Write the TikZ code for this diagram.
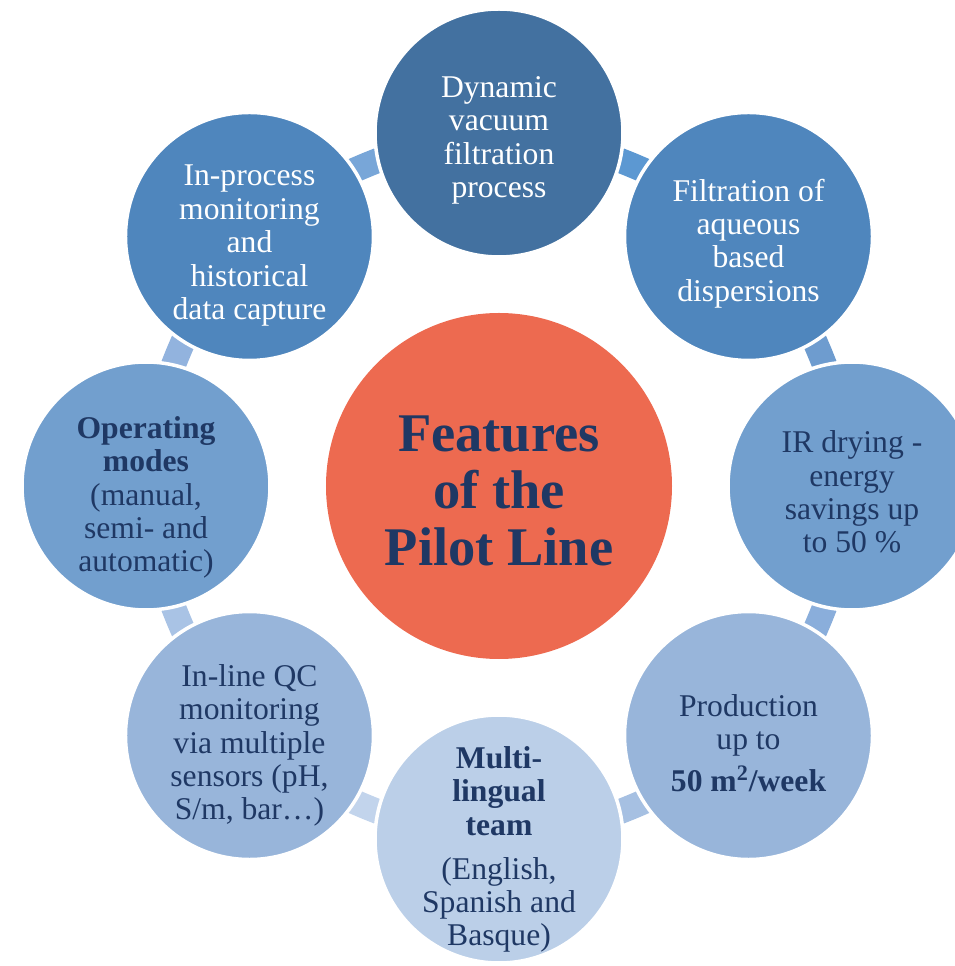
\documentclass[tikz,border=0pt]{standalone}
\usepackage{fontspec}
\setmainfont{Liberation Serif}
\usetikzlibrary{positioning,backgrounds}

\definecolor{hubred}{HTML}{ED6A50}
\definecolor{navy}{HTML}{1F3864}
\definecolor{blueA}{HTML}{4371A0}
\definecolor{blueB}{HTML}{4F86BD}
\definecolor{blueC}{HTML}{729FCE}
\definecolor{blueD}{HTML}{98B5DA}
\definecolor{blueE}{HTML}{BBCFE8}

\definecolor{linkA}{HTML}{5C98D2}
\definecolor{linkB}{HTML}{6E9CCF}
\definecolor{linkC}{HTML}{8AAEDB}
\definecolor{linkD}{HTML}{A6C0E2}
\definecolor{linkE}{HTML}{C2D4EC}
\definecolor{linkF}{HTML}{A9C3E5}
\definecolor{linkG}{HTML}{92B3DE}
\definecolor{linkH}{HTML}{78A6D8}

\newcommand{\topgap}[1]{\rule{0pt}{#1}}

\tikzset{
  feat/.style={circle, draw=white, line width=2pt, minimum size=4.96cm,
    inner sep=-6pt, outer sep=0pt, align=center,
    font=\fontsize{18}{19}\selectfont},
  hub/.style={circle, fill=hubred, minimum size=6.92cm, inner sep=0pt, outer sep=0pt,
    align=center, text=navy, font=\fontsize{31}{32.5}\selectfont\bfseries},
  link/.style={line width=0.5cm, bend left=22.5, looseness=0.7},
}

\begin{document}
\begin{tikzpicture}
  \useasboundingbox (-9.98,-9.6) rectangle (9.1,9.72);

  \node[hub] (c0) at (0,0) {\topgap{0.9cm}Features\\of the\\Pilot Line};

  \node[feat, fill=blueA, text=white, above=1.12cm of c0] (f1)
    {\topgap{0.72cm}Dynamic\\vacuum\\filtration\\process};
  \node[feat, fill=blueB, text=white, above right=0.79cm and 0.79cm of c0] (f2)
    {\topgap{0.72cm}Filtration of\\aqueous\\based\\dispersions};
  \node[feat, fill=blueC, text=navy, right=1.12cm of c0] (f3)
    {\topgap{0.68cm}IR drying -\\energy\\savings up\\to 50 \%};
  \node[feat, fill=blueD, text=navy, below right=0.79cm and 0.79cm of c0] (f4)
    {\topgap{0.74cm}Production\\up to\\[5pt]\textbf{50 m\textsuperscript{2}/week}};
  \node[feat, fill=blueE, text=navy, inner sep=-0.3cm, below=1.12cm of c0] (f5)
    {\topgap{0.86cm}\textbf{Multi-}\\\textbf{lingual}\\\textbf{team}\\[6pt](English,\\Spanish and\\Basque)};
  \node[feat, fill=blueD, text=navy, below left=0.79cm and 0.79cm of c0] (f6)
    {\topgap{0.84cm}In-line QC\\monitoring\\via multiple\\sensors (pH,\\S/m, bar…)};
  \node[feat, fill=blueC, text=navy, left=1.12cm of c0] (f7)
    {\topgap{0.9cm}\textbf{Operating}\\\textbf{modes}\\(manual,\\semi- and\\automatic)};
  \node[feat, fill=blueB, text=white, above left=0.79cm and 0.79cm of c0] (f8)
    {\topgap{0.78cm}In-process\\monitoring\\and\\historical\\data capture};

  \begin{scope}[on background layer]
    \draw[link, linkA] (f1.center) to (f2.center);
    \draw[link, linkB] (f2.center) to (f3.center);
    \draw[link, linkC] (f3.center) to (f4.center);
    \draw[link, linkD] (f4.center) to (f5.center);
    \draw[link, linkE] (f5.center) to (f6.center);
    \draw[link, linkF] (f6.center) to (f7.center);
    \draw[link, linkG] (f7.center) to (f8.center);
    \draw[link, linkH] (f8.center) to (f1.center);
  \end{scope}
\end{tikzpicture}
\end{document}
